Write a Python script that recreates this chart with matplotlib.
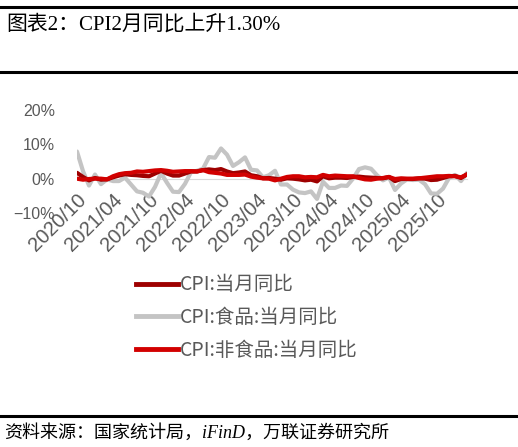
import matplotlib.pyplot as plt
import matplotlib.lines as mlines
import pandas as pd

plt.rcParams["font.family"] = ["Liberation Sans", "Noto Sans CJK SC"]

# monthly series, 2020/09 .. 2026/02 (YoY, %)
months = pd.period_range("2020-09", "2026-02", freq="M").strftime("%Y/%m").tolist()

cpi = [1.7, 0.5, -0.5, 0.2,
       -0.3, -0.2, 0.4, 0.9, 1.3, 1.1, 1.0, 0.8, 0.7, 1.5, 2.3, 1.5,
       0.9, 0.9, 1.5, 2.1, 2.1, 2.5, 2.7, 2.5, 2.8, 2.1, 1.6, 1.8,
       2.1, 1.0, 0.7, 0.1, 0.2, 0.0, -0.3, 0.1, 0.0, -0.2, -0.5, -0.3,
       -0.8, 0.7, 0.1, 0.3, 0.3, 0.2, 0.5, 0.6, 0.4, 0.3, 0.2, 0.1,
       0.5, -0.7, -0.1, -0.1, -0.1, 0.1, 0.0, -0.4, -0.3, 0.2, 0.7, 0.8,
       0.2, 1.3]
food = [7.9, 2.2, -2.0, 1.2,
        -1.6, -0.2, -0.7, -0.7, 0.3, -1.7, -3.7, -4.1, -5.2, -2.4, 1.6, -1.2,
        -3.8, -3.9, -1.5, 1.9, 2.3, 2.9, 6.3, 6.1, 8.8, 7.0, 3.7, 4.8,
        6.2, 2.6, 2.4, 0.4, 1.0, 2.3, -1.7, -1.7, -3.2, -4.0, -4.2, -3.7,
        -5.9, -0.9, -2.7, -2.7, -2.0, -2.1, 0.0, 2.8, 3.3, 2.9, 1.0, -0.5,
        0.4, -3.3, -1.4, -0.2, -0.4, -0.3, -1.6, -4.3, -4.4, -2.9, 0.2, 1.1,
        -0.7, 1.7]
nonfood = [0.0, -0.3, -0.1, 0.0,
           0.0, -0.2, 0.7, 1.3, 1.6, 1.7, 2.1, 2.0, 2.2, 2.4, 2.5, 2.3,
           2.0, 2.1, 2.2, 2.2, 2.1, 2.5, 1.9, 1.7, 1.5, 1.1, 1.1, 1.1,
           1.2, 0.6, 0.3, 0.1, 0.0, -0.5, 0.0, 0.5, 0.7, 0.7, 0.4, 0.5,
           0.4, 1.1, 0.7, 0.9, 0.8, 0.7, 0.7, 0.2, -0.2, -0.3, 0.0, 0.2,
           0.5, -0.1, 0.1, 0.0, 0.0, 0.1, 0.3, 0.5, 0.7, 0.7, 0.8, 0.7,
           0.4, 1.2]

names = ["CPI:当月同比", "CPI:食品:当月同比", "CPI:非食品:当月同比"]
colors = ["#9E0000", "#C4C4C4", "#D20000"]

fig = plt.figure(figsize=(5.18, 4.47), dpi=100)

# rules and header / footer text
for y in [1 - 7 / 447, 1 - 72 / 447, 1 - 416 / 447]:
    fig.add_artist(mlines.Line2D([0, 1], [y, y], color="black", lw=2.2))
fig.text(0.012, 1 - 25 / 447, "图表2：CPI2月同比上升1.30%", fontsize=15,
         family=["Liberation Serif", "Noto Sans CJK SC"], va="center")
fig.text(0.008, 1 - 433 / 447, "资料来源：国家统计局，iFinD，万联证券研究所", fontsize=13,
         style="italic", family=["Liberation Serif", "Noto Sans CJK SC"], va="center")

ax = fig.add_axes([77 / 518, 1 - 213 / 447, 390 / 518, 103 / 447])
x = range(len(months))
ax.plot(x, food, color=colors[1], lw=3.0, solid_capstyle="round")
ax.plot(x, cpi, color=colors[0], lw=3.0, solid_capstyle="round")
ax.plot(x, nonfood, color=colors[2], lw=3.0, solid_capstyle="round")

ax.set_xlim(0, len(months) - 1)
ax.set_ylim(-10, 20)
ax.set_yticks([-10, 0, 10, 20])
ax.set_yticklabels(["−10%", "0%", "10%", "20%"])
for s in ["top", "right", "left"]:
    ax.spines[s].set_visible(False)
ax.spines["bottom"].set_position(("data", 0))
ax.spines["bottom"].set_color("#D9D9D9")
ax.spines["bottom"].set_zorder(0)
ax.tick_params(axis="y", length=0, pad=16, labelsize=11.5, labelcolor="#595959")

tick_idx = list(range(1, len(months), 6))
ax.set_xticks(tick_idx)
ax.set_xticklabels([months[i] for i in tick_idx], rotation=45, ha="right",
                   va="center", rotation_mode="anchor")
ax.tick_params(axis="x", length=0, pad=13, labelsize=14.5, labelcolor="#595959")

handles = [mlines.Line2D([], [], color=c, lw=3.5) for c in colors]
fig.legend(handles, names, loc="upper left", bbox_to_anchor=(118 / 518, 1 - 257 / 447),
           frameon=False, labelcolor="#595959", handlelength=2.16,
           handletextpad=0.1, labelspacing=0.6,
           prop={"family": ["Noto Sans CJK SC", "DejaVu Sans"], "size": 14})

fig.savefig("out.png", dpi=100)
